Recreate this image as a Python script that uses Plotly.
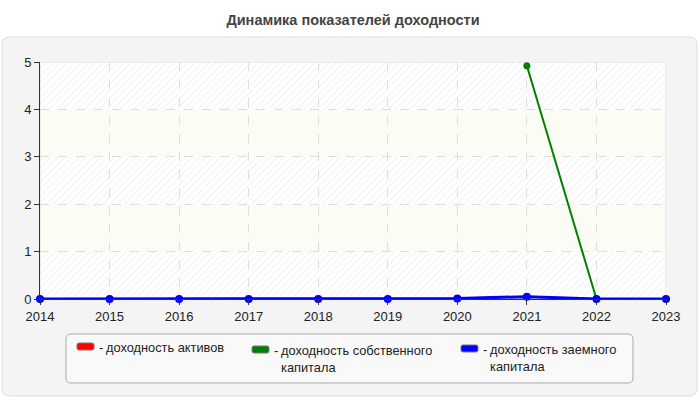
import plotly.graph_objects as go

years = [2014, 2015, 2016, 2017, 2018, 2019, 2020, 2021, 2022, 2023]
roa = [0, 0, 0, 0, 0, 0, 0.01, 0.05, 0, 0]
roe = [None, None, None, None, None, None, None, 4.92, 0, None]
rod = [0, 0, 0, 0, 0, 0, 0.01, 0.05, 0, 0]
series_names = ["доходность активов", "доходность собственного<br>капитала", "доходность заемного<br>капитала"]
series_colors = ["#ff0000", "#008000", "#0000ff"]
y_ticks = [0, 1, 2, 3, 4, 5]
title_text = "Динамика показателей доходности"

W, H = 700, 400
L, R, T, B = 40, 666, 62, 299  # plot area in px
FONT = "Liberation Sans, Arial, sans-serif"

def px(x):
    return (x - L) / (R - L)

def py(y):
    return (B - y) / (B - T)

def rounded(x0, y0, x1, y1, r):
    X = lambda v: f"{px(v):.5f}"
    Yv = lambda v: f"{py(v):.5f}"
    return (f"M {X(x0+r)},{Yv(y0)} L {X(x1-r)},{Yv(y0)} Q {X(x1)},{Yv(y0)} {X(x1)},{Yv(y0+r)} "
            f"L {X(x1)},{Yv(y1-r)} Q {X(x1)},{Yv(y1)} {X(x1-r)},{Yv(y1)} "
            f"L {X(x0+r)},{Yv(y1)} Q {X(x0)},{Yv(y1)} {X(x0)},{Yv(y1-r)} "
            f"L {X(x0)},{Yv(y0+r)} Q {X(x0)},{Yv(y0)} {X(x0+r)},{Yv(y0)} Z")

fig = go.Figure()

x0, x1 = years[0], years[-1]
# hatched bands
for lo in y_ticks[:-1:2]:
    fig.add_trace(go.Scatter(
        x=[x0, x1, x1, x0, x0], y=[lo, lo, lo + 1, lo + 1, lo],
        mode="none", fill="toself", fillcolor="rgba(0,0,0,0)",
        fillpattern=dict(shape="/", fgcolor="#e6e6e6", bgcolor="rgba(0,0,0,0)",
                         size=5, solidity=0.15, fillmode="replace"),
        hoverinfo="skip", showlegend=False))

data = [roa, roe, rod]
widths = [2, 2, 3]
sizes = [7, 7, 8]
for vals, col, w, s in zip(data, series_colors, widths, sizes):
    fig.add_trace(go.Scatter(
        x=years, y=vals, mode="lines+markers",
        line=dict(color=col, width=w),
        marker=dict(color=col, size=s, symbol="circle"),
        cliponaxis=False, connectgaps=False, showlegend=False))

shapes = []
shapes.append(dict(type="path", xref="paper", yref="paper", path=rounded(2, 37, 697, 396, 8),
                   fillcolor="#f4f4f4", line=dict(color="#dddddd", width=1), layer="below"))
shapes.append(dict(type="rect", xref="x", yref="y", x0=x0, x1=x1, y0=0, y1=5,
                   fillcolor="#ffffff", line=dict(width=0), layer="below"))
for lo in y_ticks[1:-1:2]:
    shapes.append(dict(type="rect", xref="x", yref="y", x0=x0, x1=x1, y0=lo, y1=lo + 1,
                       fillcolor="#fbfcf4", line=dict(width=0), layer="below"))
shapes.append(dict(type="rect", xref="x", yref="y", x0=x0, x1=x1, y0=0, y1=5,
                   fillcolor="rgba(0,0,0,0)", line=dict(color="#dddddd", width=1), layer="below"))
shapes.append(dict(type="path", xref="paper", yref="paper", path=rounded(66, 334, 633, 383, 5),
                   fillcolor="#f9f9f9", line=dict(color="#aaaaaa", width=1), layer="above"))

annotations = []
sw_x = [77, 252, 461]
sw_y = [343, 346, 345]
txt_x = [97, 272, 481]
for i, (name, col) in enumerate(zip(series_names, series_colors)):
    shapes.append(dict(type="path", xref="paper", yref="paper",
                       path=rounded(sw_x[i], sw_y[i], sw_x[i] + 17, sw_y[i] + 7, 2),
                       fillcolor=col, line=dict(color="#777777", width=1), layer="above"))
    top = sw_y[i] - 5
    annotations.append(dict(xref="paper", yref="paper", x=px(txt_x[i]), y=py(top),
                            xanchor="left", yanchor="top", showarrow=False, text="-",
                            font=dict(family=FONT, size=13, color="#222222")))
    annotations.append(dict(xref="paper", yref="paper", x=px(txt_x[i] + 7), y=py(top),
                            xanchor="left", yanchor="top", showarrow=False, text=name,
                            align="left", font=dict(family=FONT, size=12.8, color="#222222")))

fig.update_layout(
    width=W, height=H,
    margin=dict(l=L, r=W - R, t=T, b=H - B),
    paper_bgcolor="#ffffff", plot_bgcolor="rgba(0,0,0,0)",
    title=dict(text=f"<b>{title_text}</b>", x=0.5, xref="paper", xanchor="center",
               y=1 - 20 / H, yref="container", yanchor="middle",
               font=dict(family=FONT, size=14.5, color="#444444")),
    font=dict(family=FONT, size=12, color="#222222"),
    shapes=shapes, annotations=annotations,
    showlegend=False,
)
fig.update_xaxes(range=[x0, x1], tickvals=years, ticktext=[str(y) for y in years],
                 showgrid=True, gridcolor="#dddddd", griddash="dash", gridwidth=1,
                 showline=True, linecolor="#333333", linewidth=1,
                 ticks="outside", ticklen=5, tickcolor="#333333", zeroline=False,
                 tickfont=dict(family=FONT, size=13, color="#222222"))
fig.update_yaxes(range=[0, 5], tickvals=y_ticks,
                 showgrid=True, gridcolor="#dddddd", griddash="dash", gridwidth=1,
                 showline=True, linecolor="#333333", linewidth=1,
                 ticks="outside", ticklen=5, tickcolor="#333333", zeroline=False,
                 tickfont=dict(family=FONT, size=13, color="#222222"))

fig.write_html("out.html")
